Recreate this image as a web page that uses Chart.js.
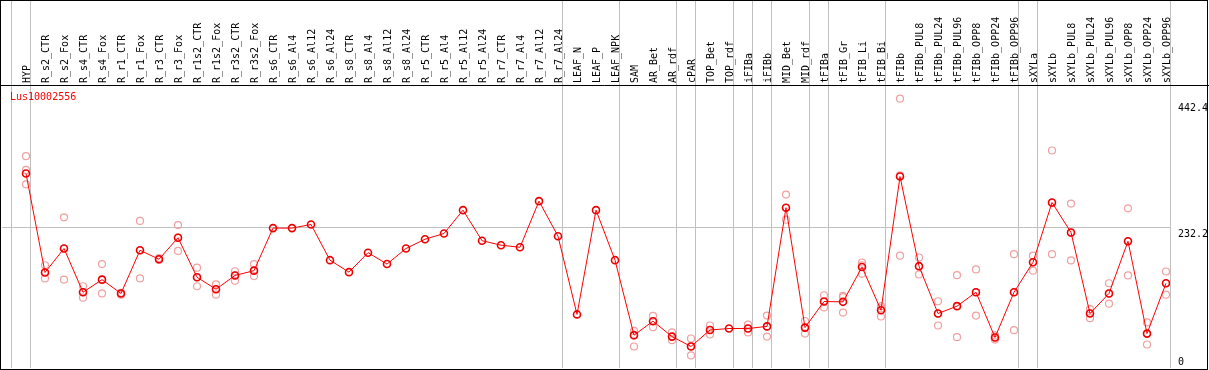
<!DOCTYPE html>
<html>
<head>
<meta charset="utf-8">
<script src="https://cdn.jsdelivr.net/npm/chart.js@4"></script>
<style>
  html, body { margin: 0; padding: 0; background: #fff; }
  #wrap { width: 1209px; height: 370px; }
</style>
</head>
<body>
<div id="wrap"><canvas id="myChart" width="1209" height="370"></canvas></div>
<script>
// DATA
const geneName = "Lus10002556";

const categories = [
  "HYP", "R_s2_CTR", "R_s2_Fox", "R_s4_CTR", "R_s4_Fox", "R_r1_CTR", "R_r1_Fox", "R_r3_CTR", "R_r3_Fox",
  "R_r1s2_CTR", "R_r1s2_Fox", "R_r3s2_CTR", "R_r3s2_Fox", "R_s6_CTR", "R_s6_Al4", "R_s6_Al12", "R_s6_Al24",
  "R_s8_CTR", "R_s8_Al4", "R_s8_Al12", "R_s8_Al24", "R_r5_CTR", "R_r5_Al4", "R_r5_Al12", "R_r5_Al24",
  "R_r7_CTR", "R_r7_Al4", "R_r7_Al12", "R_r7_Al24", "LEAF_N", "LEAF_P", "LEAF_NPK", "SAM", "AR_Bet", "AR_rdf",
  "cPAR", "TOP_Bet", "TOP_rdf", "iFIBa", "iFIBb", "MID_Bet", "MID_rdf", "tFIBa", "tFIB_Gr", "tFIB_Li", "tFIB_Bi",
  "tFIBb", "tFIBb_PUL8", "tFIBb_PUL24", "tFIBb_PUL96", "tFIBb_OPP8", "tFIBb_OPP24", "tFIBb_OPP96",
  "sXYLa", "sXYLb", "sXYLb_PUL8", "sXYLb_PUL24", "sXYLb_PUL96", "sXYLb_OPP8", "sXYLb_OPP24", "sXYLb_OPP96"
];

// mean expression (red line)
const meanValues = [
  323, 158, 198, 125, 146, 123, 195, 180, 216, 150, 130, 153, 161, 232, 232, 238, 178.5,
  158.5, 191, 172, 198, 213.5, 223, 262, 211, 203.5, 200, 277, 218.5, 88, 262, 178.5,
  53.4, 76.7, 51, 34.5, 62, 64.5, 64.5, 68, 266, 66, 109.5, 109, 167, 95,
  318, 168.5, 89.5, 101.8, 125, 49.5, 125, 175, 274.7, 224.7, 89.5, 123, 210, 56, 140
];

// replicates (pink circles)
const rep1 = [
  352, 170, 250, 135, 172, 124, 244, 182, 237, 166, 138, 160, 172, null, null, null, null,
  null, null, null, null, null, null, null, null, null, null, null, null, null, null, null,
  60.6, 85.6, 58, 47.8, 69.5, null, 71, 86, 288, 77, 120, 119, 174.6, 101.8,
  448, 183, 110, 153.5, 163, 53, 188.5, 186, 361.5, 273, 96.8, 140, 265, 74.6, 159.6
];
const rep2 = [
  329, 158, 198, 125, 146, 123, 195, 180, 216, 150, 130, 153, 161, null, null, null, null,
  null, null, null, null, null, null, null, null, null, null, null, null, null, null, null,
  53, 77, 51, 35, 62, null, 64.5, 68, 266, 66, 109, 117, 170, 98,
  320, 168, 89, 102, 125, 49.5, 125, 175, 274, 224, 90, 123, 210, 56, 140
];
const rep3 = [
  305, 148, 146, 116, 123, 121, 148, 179, 194, 135, 121, 144, 152, null, null, null, null,
  null, null, null, null, null, null, null, null, null, null, null, null, null, null, null,
  34.5, 66.7, 45, 19.5, 54.5, null, 58, 51, 246, 56, 99.6, 91, 156, 84.5,
  186, 154.6, 69.5, 50, 86, 46, 61.7, 161, 188.5, 178, 81.7, 106, 153, 37.8, 121
];

const yTicks = [0, 232.2, 442.4];
const gridValue = 232.2;
// group separators sit just after these category indexes
const groupEnds = [-1, 0, 28, 31, 34, 35, 37, 38, 39, 41, 42, 45, 52, 53, 60];

const toPoints = arr => arr.map((v, i) => ({ x: i, y: v }));

// PLUGIN: borders, separators, labels
const frame = {
  id: "frame",
  beforeDatasetsDraw(chart) {
    const ctx = chart.ctx;
    const x = chart.scales.x;
    const area = chart.chartArea;
    ctx.save();
    ctx.strokeStyle = "#c0c0c0";
    ctx.lineWidth = 1;
    groupEnds.forEach(g => {
      const px = Math.round(x.getPixelForValue(g + 0.21)) + 0.5;
      ctx.beginPath();
      ctx.moveTo(px, 0);
      ctx.lineTo(px, area.bottom);
      ctx.stroke();
    });
    ctx.restore();
  },
  afterDraw(chart) {
    const ctx = chart.ctx;
    const x = chart.scales.x;
    const y = chart.scales.y;
    const area = chart.chartArea;
    ctx.save();
    ctx.strokeStyle = "#000";
    ctx.lineWidth = 1;
    ctx.strokeRect(0.5, 0.5, chart.width - 2, chart.height - 1);
    ctx.beginPath();
    ctx.moveTo(0, area.top - 0.5);
    ctx.lineTo(chart.width, area.top - 0.5);
    ctx.stroke();

    ctx.font = "10px 'DejaVu Sans Mono'";

    // category labels, rotated, ending just above the header line
    ctx.fillStyle = "#000";
    categories.forEach((c, i) => {
      const px = x.getPixelForValue(i);
      ctx.save();
      ctx.translate(px + 4, area.top - 3);
      ctx.rotate(-Math.PI / 2);
      ctx.textAlign = "left";
      ctx.textBaseline = "alphabetic";
      ctx.fillText(c, 0, 0);
      ctx.restore();
    });

    ctx.fillStyle = "#ff0000";
    ctx.textBaseline = "top";
    ctx.textAlign = "left";
    ctx.fillText(geneName, 10, area.top + 6);

    ctx.fillStyle = "#000";
    yTicks.forEach(v => {
      const py = y.getPixelForValue(v);
      if (v === 0) {
        ctx.textBaseline = "bottom";
        ctx.fillText(String(v), area.right + 8, py);
      } else {
        ctx.textBaseline = "top";
        ctx.fillText(String(v), area.right + 8, py + 1);
      }
    });
    ctx.restore();
  }
};

const pink = "#f0a0a0";
const repStyle = {
  showLine: false,
  pointStyle: "circle",
  pointRadius: 3.5,
  pointBorderWidth: 1.2,
  pointBorderColor: pink,
  pointBackgroundColor: "rgba(0,0,0,0)",
  borderColor: pink
};

const chart = new Chart(document.getElementById("myChart"), {
  type: "line",
  data: {
    datasets: [
      Object.assign({ label: "rep1", data: toPoints(rep1), order: 3 }, repStyle),
      Object.assign({ label: "rep2", data: toPoints(rep2), order: 2 }, repStyle),
      Object.assign({ label: "rep3", data: toPoints(rep3), order: 1 }, repStyle),
      {
        label: "mean",
        data: toPoints(meanValues),
        order: 0,
        borderColor: "#ff0000",
        borderWidth: 1,
        tension: 0,
        pointRadius: 3.5,
        pointBorderWidth: 1.6,
        pointBorderColor: "#ee0000",
        pointBackgroundColor: "rgba(0,0,0,0)"
      }
    ]
  },
  options: {
    responsive: false,
    animation: false,
    devicePixelRatio: 1,
    layout: { autoPadding: false, padding: { left: 2, right: 0, top: 0, bottom: 2 } },
    plugins: { legend: { display: false }, tooltip: { enabled: false } },
    scales: {
      x: {
        type: "linear",
        position: "top",
        min: -24 / 19,
        max: 1144 / 19,
        afterFit: axis => { axis.height = 86; },
        grid: { display: false, drawTicks: false },
        border: { display: false },
        ticks: { display: false }
      },
      y: {
        type: "linear",
        position: "right",
        min: -1.4,
        max: 469.1,
        afterBuildTicks: axis => { axis.ticks = yTicks.map(v => ({ value: v })); },
        afterFit: axis => { axis.width = 39; },
        border: { display: false },
        grid: {
          drawTicks: false,
          color: c => (c.tick && c.tick.value === gridValue ? "#c0c0c0" : "rgba(0,0,0,0)")
        },
        ticks: { display: false }
      }
    }
  },
  plugins: [frame]
});
</script>
</body>
</html>
